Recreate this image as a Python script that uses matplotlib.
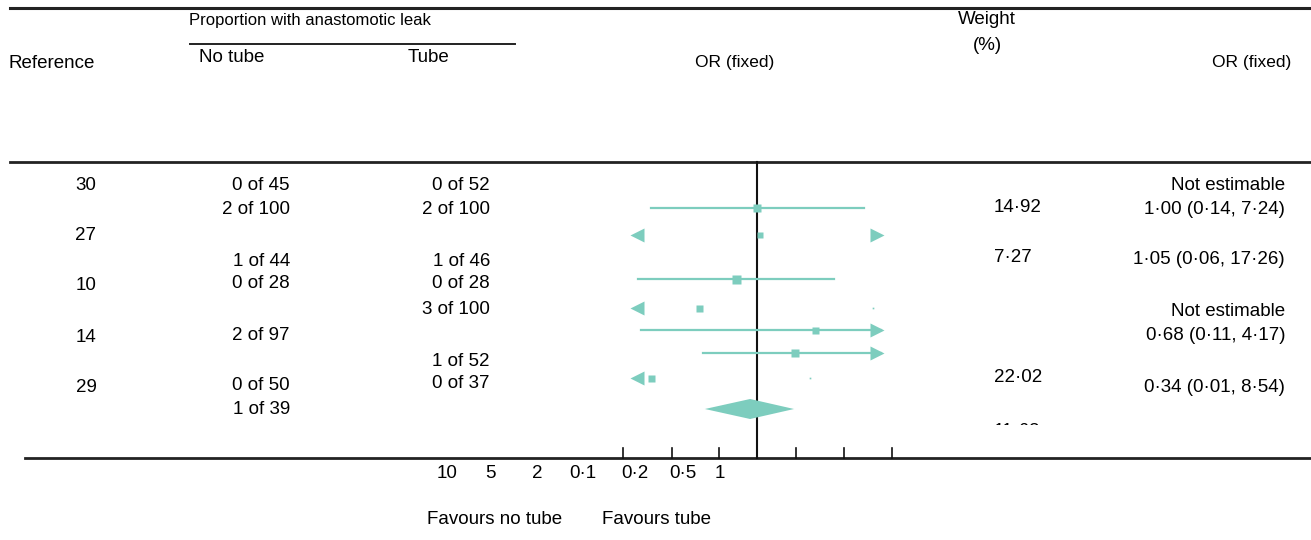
import numpy as np
import matplotlib.pyplot as plt
from matplotlib.patches import Rectangle

plt.rcParams['font.family'] = ['Liberation Sans', 'DejaVu Sans']
plt.rcParams['font.size'] = 13.5

# table text, as it appears in the figure
ref_labels = ['30', '27', '10', '14', '29']
ref_y = [186, 236, 285, 337, 387]

notube = ['0 of 45', '2 of 100', '1 of 44', '0 of 28', '2 of 97', '0 of 50', '1 of 39']
notube_y = [186, 210, 261, 283, 336, 385, 410]

tube = ['0 of 52', '2 of 100', '1 of 46', '0 of 28', '3 of 100', '1 of 52', '0 of 37']
tube_y = [186, 210, 261, 283, 310, 361, 383]

weights = ['14·92', '7·27', '22·02']
weights_y = [208, 258, 377]

or_text = ['Not estimable', '1·00 (0·14, 7·24)', '1·05 (0·06, 17·26)', 'Not estimable',
           '0·68 (0·11, 4·17)', '0·34 (0·01, 8·54)']
or_text_y = [186, 209, 259, 312, 335, 387]

tick_text = ['10', '5', '2', '0·1', '0·2', '0·5', '1']
tick_text_x = [447, 490, 537, 583, 635, 683, 720]

# forest rows: odds ratio, lower, upper, whether the CI line is drawn
row_y = [208, 235, 279, 308, 330, 353, 378]
or_val = [1.00, 1.05, 0.68, 0.34, 2.93, 2.02, 0.14]
or_lo = [0.14, 0.06, 0.11, 0.01, 0.116, 0.37, 0.05]
or_hi = [7.24, 17.26, 4.17, 8.54, 17.0, 15.0, 2.7]
line_on = [True, False, True, False, True, True, False]
box_px = [8, 6, 9, 7, 7, 8, 7]
tick_or = [0.083, 0.206, 0.49, 2.07, 5.0, 12.2]

pooled = (0.88, 0.38, 1.99)
pooled_y = 409

W, H = 1311, 540
fig = plt.figure(figsize=(W / 100, H / 100), dpi=100)
tab = fig.add_axes([0, 0, 1, 1])
tab.set_xlim(0, W)
tab.set_ylim(H, 0)
tab.axis('off')

# rules
rule = '#222222'
tab.plot([10, W], [8, 8], color=rule, lw=2.2)
tab.plot([190, 515], [44, 44], color=rule, lw=1.4)
tab.plot([10, W], [162, 162], color=rule, lw=2.0)
tab.plot([25, W], [458, 458], color=rule, lw=2.0)

# header
tab.text(310, 20, 'Proportion with anastomotic leak', ha='center', va='center', fontsize=12)
tab.text(8, 64, 'Reference', ha='left', va='center')
tab.text(232, 58, 'No tube', ha='center', va='center')
tab.text(428, 58, 'Tube', ha='center', va='center')
tab.text(735, 62, 'OR (fixed)', ha='center', va='center', fontsize=12.5)
tab.text(987, 20, 'Weight', ha='center', va='center')
tab.text(987, 45, '(%)', ha='center', va='center')
tab.text(1291, 62, 'OR (fixed)', ha='right', va='center', fontsize=12.5)

for s, y in zip(ref_labels, ref_y):
    tab.text(86, y, s, ha='center', va='center')
for s, y in zip(notube, notube_y):
    tab.text(290, y, s, ha='right', va='center')
for s, y in zip(tube, tube_y):
    tab.text(490, y, s, ha='right', va='center')
for s, y in zip(weights, weights_y):
    tab.text(994, y, s, ha='left', va='center')
for s, y in zip(or_text, or_text_y):
    tab.text(1285, y, s, ha='right', va='center')

# last weight is cut off, only the top of the glyphs shows
t = tab.text(994, 431, '11·63', ha='left', va='center', clip_on=True)
clip = Rectangle((0, 0), W, 425, transform=tab.transData)
t.set_clip_path(clip)

for s, x in zip(tick_text, tick_text_x):
    tab.text(x, 474, s, ha='center', va='center')
tab.text(495, 520, 'Favours no tube', ha='center', va='center')
tab.text(657, 520, 'Favours tube', ha='center', va='center')

# forest panel, x in log10(OR), 124 px per decade, OR 1 at x=757
ppd = 124.0
x0, x1 = 600, 920
ax = fig.add_axes([x0 / W, 0, (x1 - x0) / W, 1])
ax.set_xlim((x0 - 757) / ppd, (x1 - 757) / ppd)
ax.set_ylim(H, 0)
ax.axis('off')

teal = '#7DCDBE'
lo_lim, hi_lim = np.log10(0.1), np.log10(10)

ax.plot([0, 0], [162, 458], color='#111111', lw=1.5, zorder=1)
for tk in np.log10(tick_or):
    ax.plot([tk, tk], [448, 458], color='#111111', lw=1.2)

for y, v, lo, hi, on, bp in zip(row_y, or_val, or_lo, or_hi, line_on, box_px):
    lv, llo, lhi = np.log10(v), np.log10(lo), np.log10(hi)
    a, b = max(llo, lo_lim), min(lhi, hi_lim)
    if on:
        ax.plot([a, b], [y, y], color=teal, lw=1.6, zorder=2)
    if llo < lo_lim:
        ax.plot(lo_lim + 0.03, y, marker='<', ms=9.5, color=teal, mec='none', zorder=3)
    if lhi > hi_lim:
        ax.plot(hi_lim - 0.03, y, marker='>', ms=9.5, color=teal, mec='none', zorder=3)
    elif not on:
        ax.plot(lhi, y, marker='s', ms=1.2, color=teal, mec='none')
    ax.plot(lv, y, marker='s', ms=bp * 0.72, color=teal, mec='none', zorder=4)

pm, plo, phi = np.log10(pooled)
ax.fill([plo, pm, phi, pm], [pooled_y, pooled_y - 10, pooled_y, pooled_y + 10],
        color=teal, lw=0, zorder=3)

fig.savefig('out.png', dpi=100)
